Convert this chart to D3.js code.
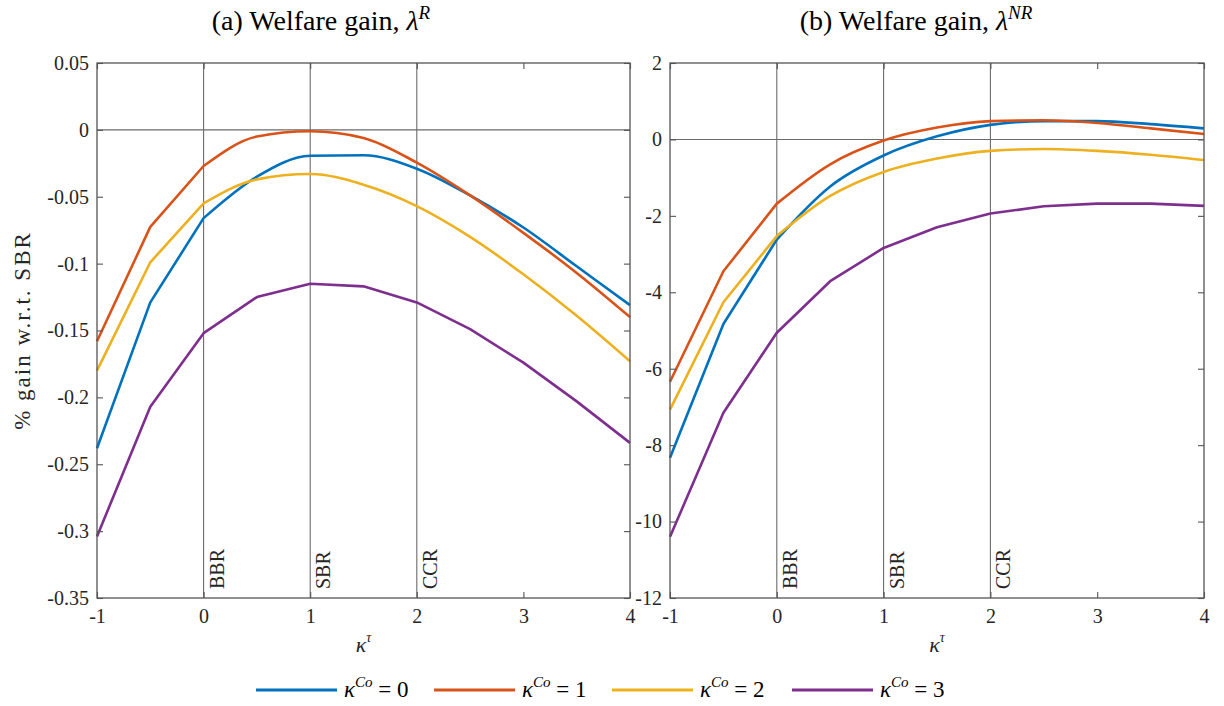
<!DOCTYPE html>
<html>
<head>
<meta charset="utf-8">
<script src="https://cdn.jsdelivr.net/npm/d3@7"></script>
<style>
  body { margin: 0; background: #fff; }
  svg text { font-family: "Liberation Serif", "Times New Roman", serif; }
  .tick text { font-size: 20px; fill: #262626; }
</style>
</head>
<body>
<svg id="chart" width="1224" height="706"></svg>
<script>
// Welfare gains vs kappa^tau, two panels, four kappa^Co series each.

const kappaTau = [-1, -0.5, 0, 0.5, 1, 1.5, 2, 2.5, 3, 3.5, 4];

// panel (a): lambda^R
const gainR_co0 = [-0.238, -0.129, -0.066, -0.035, -0.0194, -0.019, -0.029, -0.049, -0.073, -0.102, -0.131];
const gainR_co1 = [-0.158, -0.0725, -0.027, -0.005, -0.001, -0.006, -0.0245, -0.049, -0.077, -0.107, -0.140];
const gainR_co2 = [-0.180, -0.099, -0.055, -0.037, -0.033, -0.041, -0.057, -0.080, -0.108, -0.139, -0.173];
const gainR_co3 = [-0.304, -0.207, -0.152, -0.125, -0.115, -0.117, -0.129, -0.149, -0.174, -0.203, -0.234];

// panel (b): lambda^NR
const gainNR_co0 = [-8.33, -4.83, -2.62, -1.23, -0.42, 0.08, 0.38, 0.48, 0.48, 0.40, 0.29];
const gainNR_co1 = [-6.34, -3.45, -1.68, -0.65, -0.03, 0.31, 0.48, 0.50, 0.43, 0.29, 0.14];
const gainNR_co2 = [-7.07, -4.26, -2.53, -1.48, -0.85, -0.50, -0.30, -0.25, -0.30, -0.40, -0.54];
const gainNR_co3 = [-10.4, -7.15, -5.06, -3.71, -2.84, -2.30, -1.94, -1.75, -1.68, -1.68, -1.74];

const seriesNames = ['0', '1', '2', '3'];
const colors = ['#0072BD', '#D95319', '#EDB120', '#7E2F8E'];
const smooth = [true, true, true, false];

const xTicks = [-1, 0, 1, 2, 3, 4];
const xTickLabels = ['-1', '0', '1', '2', '3', '4'];
const yTicksR = [-0.35, -0.3, -0.25, -0.2, -0.15, -0.1, -0.05, 0, 0.05];
const yTickLabelsR = ['-0.35', '-0.3', '-0.25', '-0.2', '-0.15', '-0.1', '-0.05', '0', '0.05'];
const yTicksNR = [-12, -10, -8, -6, -4, -2, 0, 2];
const yTickLabelsNR = ['-12', '-10', '-8', '-6', '-4', '-2', '0', '2'];

const regimes = [0, 1, 2];
const regimeLabels = ['BBR', 'SBR', 'CCR'];

const svg = d3.select('#chart');
const TOP = 63, BOTTOM = 598;

const panels = [
  { left: 97, right: 630, domain: [-0.35, 0.05], ticks: yTicksR, labels: yTickLabelsR,
    series: [gainR_co0, gainR_co1, gainR_co2, gainR_co3],
    title: '(a) Welfare gain, ', sup: 'R', titleX: 321 },
  { left: 670, right: 1204, domain: [-12, 2], ticks: yTicksNR, labels: yTickLabelsNR,
    series: [gainNR_co0, gainNR_co1, gainNR_co2, gainNR_co3],
    title: '(b) Welfare gain, ', sup: 'NR', titleX: 916 }
];

panels.forEach(p => {
  const x = d3.scaleLinear().domain([-1, 4]).range([p.left, p.right]);
  const y = d3.scaleLinear().domain(p.domain).range([BOTTOM, TOP]);
  const g = svg.append('g');

  // reference lines: regimes and zero
  g.selectAll('line.reg')
    .data(regimes)
    .join('line')
    .attr('x1', d => x(d)).attr('x2', d => x(d))
    .attr('y1', TOP).attr('y2', BOTTOM)
    .attr('stroke', '#6b6b6b').attr('stroke-width', 1.1);
  g.append('line')
    .attr('x1', p.left).attr('x2', p.right)
    .attr('y1', y(0)).attr('y2', y(0))
    .attr('stroke', '#6b6b6b').attr('stroke-width', 1.1);

  // regime labels, rotated
  g.selectAll('text.reg')
    .data(regimes)
    .join('text')
    .attr('transform', d => `translate(${x(d) + 20},${BOTTOM - 9}) rotate(-90)`)
    .attr('font-size', 20)
    .attr('fill', '#262626')
    .text((d, i) => regimeLabels[i]);

  // series: straight segments up to 0, smooth after (purple stays straight)
  const pts = s => s.map((v, i) => [kappaTau[i], v]);
  const lineLin = d3.line().x(d => x(d[0])).y(d => y(d[1]));
  const lineSmooth = d3.line().x(d => x(d[0])).y(d => y(d[1])).curve(d3.curveMonotoneX);
  p.series.forEach((s, i) => {
    const all = pts(s);
    const d = smooth[i]
      ? lineLin(all.filter(q => q[0] <= 0)) + lineSmooth(all.filter(q => q[0] >= 0)).replace(/^M/, 'L')
      : lineLin(all);
    g.append('path')
      .attr('d', d)
      .attr('fill', 'none')
      .attr('stroke', colors[i])
      .attr('stroke-width', 2.6)
      .attr('stroke-linejoin', 'round');
  });

  // axes, MATLAB style ticks inward on all four sides
  const axColor = '#555';
  const ax = (sel) => {
    sel.attr('font-family', null).attr('font-size', null);
    sel.select('.domain').remove();
    sel.selectAll('.tick line').attr('stroke', axColor).attr('stroke-width', 1.1);
  };
  g.append('g').attr('transform', `translate(0,${BOTTOM})`)
    .call(d3.axisBottom(x).tickValues(xTicks).tickSize(-6).tickPadding(11)
      .tickFormat((d, i) => xTickLabels[i]))
    .call(ax);
  g.append('g').attr('transform', `translate(0,${TOP})`)
    .call(d3.axisTop(x).tickValues(xTicks).tickSize(-6).tickFormat(''))
    .call(ax);
  g.append('g').attr('transform', `translate(${p.left},0)`)
    .call(d3.axisLeft(y).tickValues(p.ticks).tickSize(-6).tickPadding(8)
      .tickFormat((d, i) => p.labels[i]))
    .call(ax);
  g.append('g').attr('transform', `translate(${p.right},0)`)
    .call(d3.axisRight(y).tickValues(p.ticks).tickSize(-6).tickFormat(''))
    .call(ax);

  g.append('rect')
    .attr('x', p.left).attr('y', TOP)
    .attr('width', p.right - p.left).attr('height', BOTTOM - TOP)
    .attr('fill', 'none').attr('stroke', axColor).attr('stroke-width', 1.3);

  // title
  const t = svg.append('text')
    .attr('x', p.titleX).attr('y', 30)
    .attr('text-anchor', 'middle')
    .attr('font-size', 28)
    .attr('fill', '#000');
  t.append('tspan').text(p.title);
  t.append('tspan').attr('font-style', 'italic').text('λ');
  t.append('tspan').attr('font-size', 19).attr('dy', -11).attr('font-style', 'italic').text(p.sup);

  // x label
  const xl = svg.append('text')
    .attr('x', (p.left + p.right) / 2).attr('y', 652)
    .attr('text-anchor', 'middle')
    .attr('font-size', 22).attr('font-style', 'italic').attr('fill', '#262626');
  xl.append('tspan').text('κ');
  xl.append('tspan').attr('font-size', 14).attr('dy', -10).text('τ');
});

// y label on the left panel
svg.append('text')
  .attr('transform', `translate(30,${(TOP + BOTTOM) / 2}) rotate(-90)`)
  .attr('text-anchor', 'middle')
  .attr('font-size', 23)
  .attr('letter-spacing', 2)
  .attr('fill', '#262626')
  .text('% gain w.r.t. SBR');

// legend
const legendX = [256, 434, 612, 792];
const lg = svg.append('g');
seriesNames.forEach((name, i) => {
  const gx = legendX[i];
  lg.append('line')
    .attr('x1', gx).attr('x2', gx + 81)
    .attr('y1', 690).attr('y2', 690)
    .attr('stroke', colors[i]).attr('stroke-width', 3);
  const tx = lg.append('text')
    .attr('x', gx + 88).attr('y', 697)
    .attr('font-size', 23).attr('fill', '#000');
  tx.append('tspan').attr('font-style', 'italic').text('κ');
  tx.append('tspan').attr('font-style', 'italic').attr('font-size', 15).attr('dy', -10).text('Co');
  tx.append('tspan').attr('dy', 10).text(' = ' + name);
});
</script>
</body>
</html>
